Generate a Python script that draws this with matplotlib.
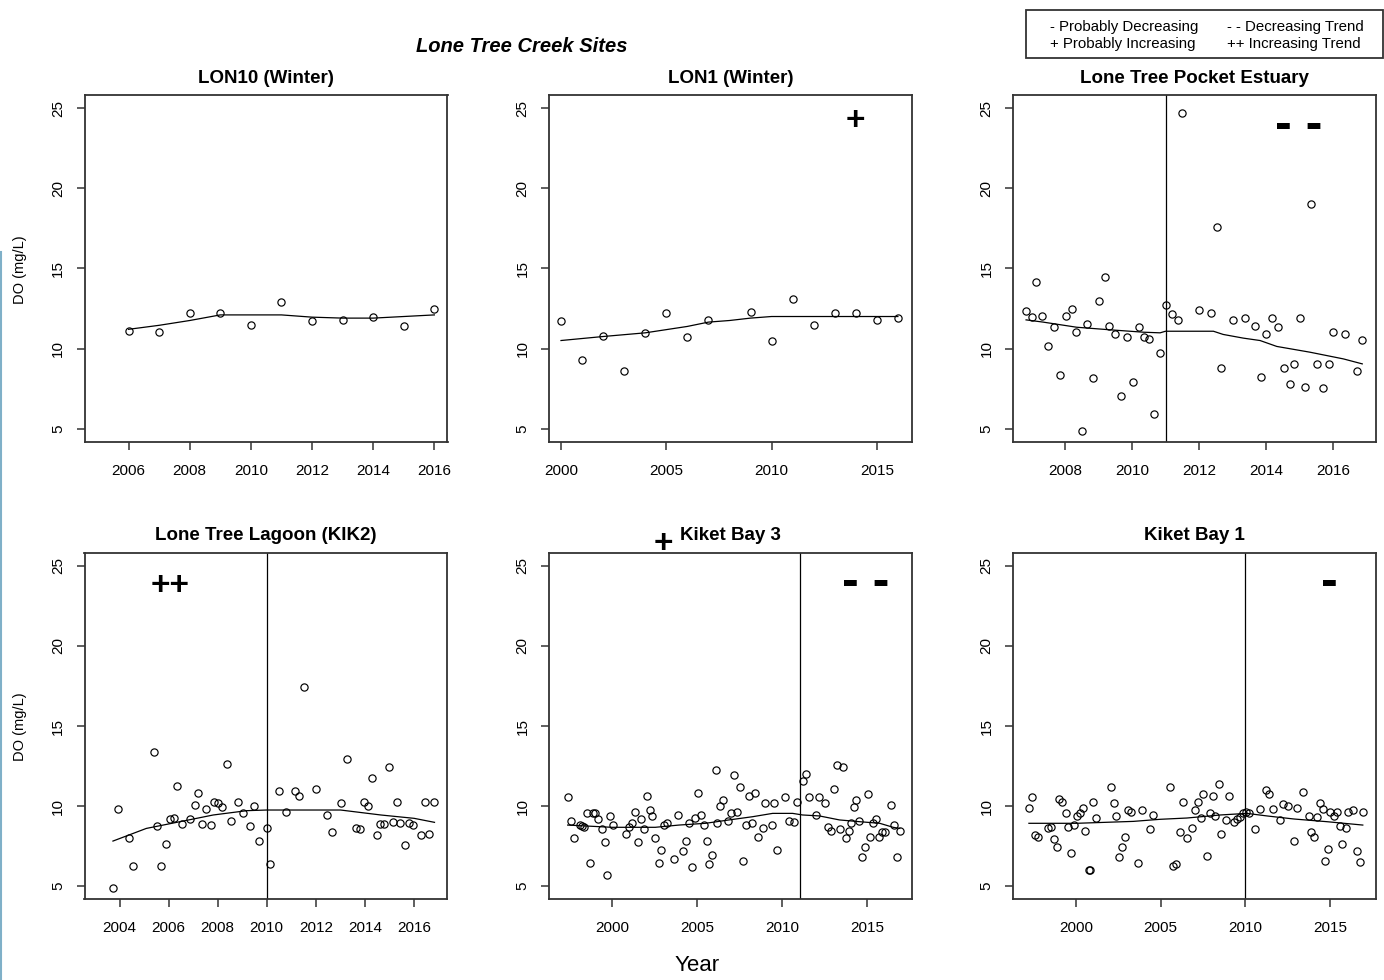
import matplotlib
matplotlib.use("Agg")
import matplotlib.pyplot as plt
from matplotlib.lines import Line2D
from matplotlib.patches import Rectangle

plt.rcParams['font.family'] = ['Liberation Sans', 'DejaVu Sans']

# ---- data ----
# LON10 (Winter)
lon10_year = [2006, 2007, 2008, 2009, 2010, 2011, 2012, 2013, 2014, 2015, 2016]
lon10_do = [11.1, 11.05, 12.2, 12.2, 11.5, 12.9, 11.7, 11.8, 12.0, 11.4, 12.5]
lon10_trend_year = [2006, 2007, 2008, 2009, 2010, 2011, 2012, 2013, 2014, 2015, 2016]
lon10_trend_do = [11.2, 11.45, 11.75, 12.1, 12.1, 12.1, 11.96, 11.9, 11.9, 12.0, 12.1]

# LON1 (Winter)
lon1_year = [2000, 2001, 2002, 2003, 2004, 2005, 2006, 2007, 2009, 2010,
             2011, 2012, 2013, 2014, 2015, 2016]
lon1_do = [11.7, 9.3, 10.8, 8.6, 11.0, 12.25, 10.7, 11.8, 12.3, 10.5,
           13.1, 11.5, 12.2, 12.2, 11.8, 11.9]
lon1_trend_year = [2000, 2002, 2004, 2006, 2007, 2008, 2009, 2010, 2016]
lon1_trend_do = [10.5, 10.75, 10.98, 11.38, 11.65, 11.75, 11.9, 12.0, 12.0]

# Lone Tree Pocket Estuary
pocket_year = [2006.84, 2007.01, 2007.14, 2007.32, 2007.50, 2007.66, 2007.84, 2008.02,
               2008.20, 2008.33, 2008.50, 2008.67, 2008.85, 2009.01, 2009.19, 2009.32,
               2009.50, 2009.67, 2009.84, 2010.02, 2010.20, 2010.36, 2010.50, 2010.67,
               2010.85, 2011.01, 2011.19, 2011.36, 2011.49, 2012.01, 2012.36, 2012.54,
               2012.66, 2013.00, 2013.36, 2013.66, 2013.84, 2014.01, 2014.19, 2014.36,
               2014.53, 2014.71, 2014.84, 2015.01, 2015.17, 2015.35, 2015.52, 2015.70,
               2015.88, 2016.01, 2016.36, 2016.70, 2016.87]
pocket_do = [12.33, 11.96, 14.15, 12.06, 10.15, 11.33, 8.33, 12.06,
             12.5, 11.06, 4.85, 11.52, 8.15, 12.98, 14.44, 11.42,
             10.88, 7.06, 10.69, 7.88, 11.33, 10.69, 10.6, 5.88,
             9.69, 12.71, 12.17, 11.79, 24.71, 12.42, 12.25, 17.6,
             8.79, 11.79, 11.88, 11.42, 8.25, 10.88, 11.88, 11.33,
             8.79, 7.79, 9.06, 11.88, 7.6, 19.06, 9.06, 7.52,
             9.06, 11.06, 10.88, 8.6, 10.52]
pocket_trend_year = [2006.84, 2007.35, 2008.35, 2009.34, 2010.34, 2010.84, 2011.0, 2012.43,
                     2012.72, 2013.32, 2013.82, 2014.32, 2015.31, 2016.31, 2016.87]
pocket_trend_do = [11.79, 11.65, 11.33, 11.17, 11.02, 10.98, 11.08, 11.08,
                   10.88, 10.65, 10.5, 10.13, 9.77, 9.35, 9.04]

# Lone Tree Lagoon (KIK2)
lagoon_year = [2003.74, 2003.92, 2004.40, 2004.56, 2005.41, 2005.52, 2005.70, 2005.88,
               2006.04, 2006.23, 2006.35, 2006.53, 2006.89, 2007.06, 2007.18, 2007.36,
               2007.54, 2007.71, 2007.84, 2008.01, 2008.19, 2008.37, 2008.54, 2008.84,
               2009.02, 2009.32, 2009.50, 2009.67, 2010.03, 2010.15, 2010.50, 2010.80,
               2011.16, 2011.33, 2011.52, 2011.99, 2012.46, 2012.65, 2013.01, 2013.29,
               2013.65, 2013.82, 2013.95, 2014.13, 2014.31, 2014.49, 2014.60, 2014.78,
               2014.97, 2015.14, 2015.32, 2015.44, 2015.62, 2015.80, 2015.97, 2016.27,
               2016.45, 2016.62, 2016.80]
lagoon_do = [4.9, 9.81, 7.98, 6.27, 13.35, 8.73, 6.27, 7.63,
             9.17, 9.27, 11.27, 8.88, 9.19, 10.08, 10.81, 8.9,
             9.81, 8.81, 10.27, 10.19, 9.92, 12.63, 9.08, 10.27,
             9.54, 8.73, 10.0, 7.81, 8.63, 6.35, 10.92, 9.63,
             10.92, 10.63, 17.46, 11.08, 9.44, 8.36, 10.19, 12.92,
             8.63, 8.54, 10.27, 9.98, 11.73, 8.19, 8.9, 8.9,
             12.44, 9.0, 10.27, 8.92, 7.54, 8.92, 8.81, 8.19,
             10.27, 8.27, 10.27]
lagoon_trend_year = [2003.73, 2005.09, 2006.46, 2007.82, 2009.19, 2010.0, 2013.01,
                     2014.65, 2016.01, 2016.84]
lagoon_trend_do = [7.81, 8.6, 9.02, 9.44, 9.71, 9.75, 9.75, 9.44, 9.23, 8.98]

# Kiket Bay 3
kb3_year = [1997.38, 1997.55, 1997.73, 1998.11, 1998.24, 1998.36, 1998.50, 1998.86,
            1998.99, 1999.19, 1998.68, 1999.39, 1999.55, 1999.70, 1999.90, 2000.06,
            2000.83, 2000.97, 2001.18, 2001.34, 2001.52, 2001.70, 2001.85, 2002.03,
            2002.21, 2002.35, 2002.54, 2002.74, 2002.90, 2003.06, 2003.25, 2003.65,
            2003.85, 2004.18, 2004.36, 2004.54, 2004.71, 2004.87, 2005.23, 2005.05,
            2005.38, 2005.56, 2005.72, 2005.90, 2006.09, 2006.17, 2006.33, 2006.51,
            2006.84, 2007.02, 2007.36, 2007.20, 2007.55, 2007.73, 2007.87, 2008.22,
            2008.07, 2008.40, 2008.58, 2008.86, 2009.01, 2009.39, 2009.53, 2009.68,
            2010.20, 2010.39, 2010.73, 2010.87, 2011.26, 2011.40, 2011.60, 2012.01,
            2012.17, 2012.52, 2012.72, 2012.88, 2013.06, 2013.23, 2013.57, 2013.39,
            2013.77, 2013.94, 2014.06, 2014.26, 2014.36, 2014.52, 2014.71, 2014.87,
            2015.05, 2015.21, 2015.36, 2015.56, 2015.72, 2015.88, 2016.06, 2016.41,
            2016.59, 2016.75, 2016.94]
kb3_do = [10.54, 9.06, 8.0, 8.81, 8.75, 8.67, 9.54, 9.58,
          9.54, 9.19, 6.42, 8.54, 7.73, 5.71, 9.35, 8.81,
          8.25, 8.71, 8.92, 9.65, 7.73, 9.19, 8.54, 10.63,
          9.75, 9.35, 8.0, 6.44, 7.27, 8.81, 8.92, 6.71,
          9.44, 7.19, 7.81, 8.92, 6.19, 9.27, 9.44, 10.83,
          8.81, 7.81, 6.35, 6.92, 12.27, 8.92, 10.0, 10.35,
          9.08, 9.54, 9.65, 11.92, 11.19, 6.54, 8.81, 8.92,
          10.65, 10.83, 8.08, 8.63, 10.19, 8.81, 10.19, 7.27,
          10.54, 9.08, 9.0, 10.27, 11.54, 12.0, 10.54, 9.44,
          10.54, 10.19, 8.71, 8.44, 11.08, 12.56, 12.46, 8.54,
          8.0, 8.44, 8.92, 9.92, 10.35, 9.08, 6.83, 7.46,
          10.75, 8.08, 8.92, 9.19, 8.08, 8.35, 8.35, 10.08,
          8.81, 6.83, 8.44]
kb3_trend_year = [1997.38, 1999.98, 2002.54, 2003.93, 2005.5, 2006.88, 2008.26, 2009.45,
                  2010.63, 2011.22, 2012.21, 2013.39, 2014.58, 2015.76, 2016.55, 2016.94]
kb3_trend_do = [8.81, 8.67, 8.67, 8.81, 8.92, 9.13, 9.33, 9.54,
                9.54, 9.44, 9.38, 9.13, 9.02, 8.92, 8.67, 8.6]

# Kiket Bay 1
kb1_year = [1997.22, 1997.40, 1997.57, 1997.75, 1998.32, 1998.50, 1998.68, 1998.86,
            1999.01, 1999.19, 1999.39, 1999.55, 1999.88, 1999.72, 2000.08, 2000.26,
            2000.41, 2000.51, 2000.75, 2000.85, 2001.03, 2001.20, 2002.05, 2002.23,
            2002.39, 2002.56, 2002.74, 2002.92, 2003.08, 2003.25, 2003.69, 2003.87,
            2004.38, 2004.56, 2005.58, 2005.74, 2005.92, 2006.17, 2006.35, 2006.53,
            2006.86, 2007.04, 2007.22, 2007.38, 2007.53, 2007.73, 2007.89, 2008.07,
            2008.24, 2008.42, 2008.58, 2008.84, 2009.01, 2009.33, 2009.51, 2009.66,
            2009.88, 2010.04, 2010.22, 2010.59, 2010.89, 2011.24, 2011.42, 2011.64,
            2012.03, 2012.21, 2012.54, 2012.88, 2013.06, 2013.39, 2013.75, 2013.91,
            2014.08, 2014.24, 2014.40, 2014.58, 2014.71, 2014.89, 2015.03, 2015.23,
            2015.40, 2015.58, 2015.74, 2015.92, 2016.07, 2016.39, 2016.61, 2016.75,
            2016.94]
kb1_do = [9.9, 10.54, 8.19, 8.08, 8.6, 8.71, 7.92, 7.42,
          10.46, 10.27, 9.54, 8.71, 8.81, 7.08, 9.35, 9.54,
          9.9, 8.46, 6.0, 6.0, 10.27, 9.27, 11.17, 10.17,
          9.35, 6.81, 7.42, 8.08, 9.73, 9.63, 6.44, 9.73,
          8.54, 9.46, 11.17, 6.27, 6.35, 8.38, 10.27, 8.0,
          8.65, 9.73, 10.27, 9.27, 10.73, 6.9, 9.54, 10.63,
          9.38, 11.35, 8.27, 9.1, 10.63, 9.0, 9.19, 9.29,
          9.54, 9.65, 9.54, 8.56, 9.81, 11.0, 10.73, 9.81,
          9.15, 10.1, 10.0, 7.83, 9.9, 10.9, 9.38, 8.38,
          8.08, 9.29, 10.17, 9.83, 6.58, 7.29, 9.63, 9.38,
          9.63, 8.73, 7.65, 8.65, 9.63, 9.73, 7.21, 6.48,
          9.63]
kb1_trend_year = [1997.22, 2000.04, 2003.39, 2004.97, 2006.55, 2008.52, 2010.1, 2011.28,
                  2012.86, 2014.83, 2016.94]
kb1_trend_do = [8.92, 8.92, 9.04, 9.17, 9.25, 9.44, 9.54, 9.38, 9.19, 9.02, 8.81]

Y_TICKS = [5, 10, 15, 20, 25]
Y_LIM = (4.19, 25.81)
FRAME = '#333333'


def draw_panel(ax, years, values, trend_years, trend_values, title, xlim, xticks,
               split=None):
    """scatter of DO values with the smooth trend and optional split line"""
    ax.plot(years, values, linestyle='none', marker='o', markersize=5.2,
            markerfacecolor='none', markeredgecolor='black', markeredgewidth=0.85)
    ax.plot(trend_years, trend_values, color='black', linewidth=0.9)
    if split is not None:
        ax.axvline(split, color='black', linewidth=0.9)
    ax.set_xlim(*xlim)
    ax.set_ylim(*Y_LIM)
    ax.set_xticks(xticks)
    ax.set_yticks(Y_TICKS)
    ax.tick_params(axis='both', direction='out', length=6, width=1.1, color=FRAME,
                   labelsize=11)
    ax.tick_params(axis='x', pad=10)
    ax.tick_params(axis='y', pad=8, labelrotation=90)
    for lab in ax.get_yticklabels():
        lab.set_verticalalignment('center')
    for sp in ax.spines.values():
        sp.set_color(FRAME)
        sp.set_linewidth(1.3)
    ax.set_title(title, fontsize=13.5, fontweight='bold', pad=9)


def mark(ax, text, x, y, size=24):
    ax.text(x, y, text, transform=ax.transAxes, ha='center', va='center',
            fontsize=size, fontweight='bold', clip_on=False)


fig = plt.figure(figsize=(13.84, 9.8), dpi=100)

col_left = [84.5 / 1384, 549 / 1384, 1013 / 1384]
width = 363 / 1384
height = 346 / 980
row_bottom = [1 - 441.5 / 980, 1 - 899 / 980]

ax1 = fig.add_axes([col_left[0], row_bottom[0], width, height])
ax2 = fig.add_axes([col_left[1], row_bottom[0], width, height])
ax3 = fig.add_axes([col_left[2], row_bottom[0], width, height])
ax4 = fig.add_axes([col_left[0], row_bottom[1], width, height])
ax5 = fig.add_axes([col_left[1], row_bottom[1], width, height])
ax6 = fig.add_axes([col_left[2], row_bottom[1], width, height])

draw_panel(ax1, lon10_year, lon10_do, lon10_trend_year, lon10_trend_do,
           'LON10 (Winter)', (2004.56, 2016.43), range(2006, 2017, 2))
draw_panel(ax2, lon1_year, lon1_do, lon1_trend_year, lon1_trend_do,
           'LON1 (Winter)', (1999.43, 2016.67), range(2000, 2016, 5))
draw_panel(ax3, pocket_year, pocket_do, pocket_trend_year, pocket_trend_do,
           'Lone Tree Pocket Estuary', (2006.45, 2017.28), range(2008, 2017, 2),
           split=2011.0)
draw_panel(ax4, lagoon_year, lagoon_do, lagoon_trend_year, lagoon_trend_do,
           'Lone Tree Lagoon (KIK2)', (2002.57, 2017.37), range(2004, 2017, 2),
           split=2010.0)
draw_panel(ax5, kb3_year, kb3_do, kb3_trend_year, kb3_trend_do,
           'Kiket Bay 3', (1996.28, 2017.66), range(2000, 2016, 5), split=2011.08)
draw_panel(ax6, kb1_year, kb1_do, kb1_trend_year, kb1_trend_do,
           'Kiket Bay 1', (1996.28, 2017.72), range(2000, 2016, 5), split=2010.0)

# trend symbols (short thick dashes drawn as big bold hyphens)
mark(ax2, '+', 0.845, 0.925)
mark(ax3, '- -', 0.787, 0.913, size=36)
mark(ax4, '++', 0.236, 0.902)
mark(ax5, '- -', 0.873, 0.913, size=36)
mark(ax5, '+', 0.316, 1.025)
mark(ax6, '-', 0.871, 0.913, size=36)

# figure level text
fig.text(522 / 1384, 1 - 47 / 980, 'Lone Tree Creek Sites', ha='center', va='center',
         fontsize=14.5, fontweight='bold', fontstyle='italic')
fig.text(697 / 1384, 1 - 965 / 980, 'Year', ha='center', va='center', fontsize=16)
for yc in [270, 727]:
    fig.text(20 / 1384, 1 - yc / 980, 'DO (mg/L)', ha='center', va='center',
             rotation=90, fontsize=10.5)

# legend box
fig.add_artist(Rectangle((1026 / 1384, 1 - 58 / 980), 357 / 1384, 48 / 980,
                         transform=fig.transFigure, fill=False, edgecolor=FRAME,
                         linewidth=1.3))
legend_rows = [('- Probably Decreasing', '- - Decreasing Trend'),
               ('+ Probably Increasing', '++ Increasing Trend')]
for i, (left_txt, right_txt) in enumerate(legend_rows):
    yy = 1 - (27 + 17 * i) / 980
    fig.text(1050 / 1384, yy, left_txt, ha='left', va='center', fontsize=10.8)
    fig.text(1227 / 1384, yy, right_txt, ha='left', va='center', fontsize=10.8)

# thin blue edge on the left side
fig.add_artist(Line2D([1.5 / 1384, 1.5 / 1384], [0, 1 - 252 / 980],
                      transform=fig.transFigure, color='#7fb0c8', linewidth=1.5))

fig.savefig('out.png', dpi=100, facecolor='white')
